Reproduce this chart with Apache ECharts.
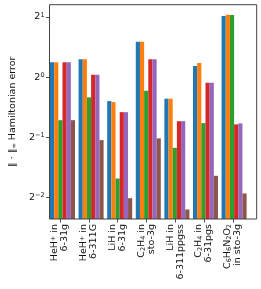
<!DOCTYPE html>
<html><head><meta charset="utf-8">
<script src="https://cdn.jsdelivr.net/npm/echarts@6/dist/echarts.min.js"></script>
<style>html,body{margin:0;padding:0;background:#fff}#c{width:261px;height:289px}</style>
</head><body><div id="c"></div>
<script>
const categories = [
  'HeH{sup|+} in\n6-31g',
  'HeH{sup|+} in\n6-311G',
  'LiH in\n6-31g',
  'C{sub|2}H{sub|4} in\nsto-3g',
  'LiH in\n6-311ppgss',
  'C{sub|2}H{sub|4} in\n6-31pgs',
  'C{sub|6}H{sub|6}N{sub|2}O{sub|2}\nin sto-3g'
];
const seriesBlue   = [1.185, 1.227, 0.758, 1.504, 0.779, 1.135, 2.023];
const seriesOrange = [1.185, 1.227, 0.749, 1.504, 0.779, 1.175, 2.054];
const seriesGreen  = [0.608, 0.791, 0.310, 0.854, 0.442, 0.588, 2.049];
const seriesRed    = [1.185, 1.027, 0.667, 1.227, 0.601, 0.937, 0.579];
const seriesPurple = [1.185, 1.027, 0.667, 1.227, 0.601, 0.937, 0.586];
const seriesBrown  = [0.608, 0.483, 0.247, 0.493, 0.217, 0.320, 0.261];
const yTicks = [0.25, 0.5, 1, 2];
const yMin = 0.1944, yMax = 2.305;

const colors = ['#1f77b4', '#ff7f0e', '#2ca02c', '#d62728', '#9467bd', '#8c564b'];
const allSeries = [seriesBlue, seriesOrange, seriesGreen, seriesRed, seriesPurple, seriesBrown];
const FONT = 'DejaVu Sans';
const FS = 9.5;

const chart = echarts.init(document.getElementById('c'), null, {renderer: 'canvas'});
const frame = {left: 40.7, top: 4.7, right: 4.3, bottom: 70};
const barsGrid = {left: 48.2, top: 4.7, width: 200.2, bottom: 70};
const labelGrid = {left: 45.6, top: 4.7, width: 201.6, bottom: 70};

function supFmt(v) {
  const e = Math.round(Math.log2(v));
  const s = e < 0 ? '\u2212' + (-e) : String(e);
  return '2{sup|' + s + '}';
}

chart.setOption({
  animation: false,
  textStyle: {fontFamily: FONT},
  grid: [
    Object.assign({show: true, borderColor: '#444', borderWidth: 1, backgroundColor: 'transparent', z: 5}, frame),
    barsGrid,
    labelGrid
  ],
  xAxis: [
    {gridIndex: 0, type: 'value', min: 0, max: 1, show: false},
    {gridIndex: 1, type: 'category', data: categories, show: false},
    {gridIndex: 2, type: 'category', data: categories, boundaryGap: true,
     axisLine: {show: false},
     axisTick: {show: true, alignWithLabel: true, length: 3.5, lineStyle: {color: '#222', width: 0.8}},
     axisLabel: {
       rotate: 90, interval: 0, margin: 5, fontFamily: FONT, fontSize: FS, color: '#111',
       lineHeight: 10, align: 'right',
       rich: {
         sup: {fontSize: 6.5, fontFamily: FONT, color: '#111', verticalAlign: 'top', lineHeight: 8},
         sub: {fontSize: 6.5, fontFamily: FONT, color: '#111', verticalAlign: 'bottom', lineHeight: 8}
       }
     }}
  ],
  yAxis: [
    {gridIndex: 0, type: 'log', logBase: 2, min: yMin, max: yMax,
     name: '\u2016 \u00b7 \u2016{sub|\u221e} Hamiltonian error',
     nameLocation: 'middle', nameGap: 27, nameRotate: 90,
     nameTextStyle: {fontFamily: FONT, fontSize: FS, color: '#111',
       rich: {sub: {fontSize: 6.5, fontFamily: FONT, color: '#111', verticalAlign: 'bottom', lineHeight: 8}}},
     axisLine: {show: false},
     splitLine: {show: false},
     axisTick: {show: true, length: 3.5, customValues: yTicks, lineStyle: {color: '#222', width: 0.8}},
     axisLabel: {customValues: yTicks, margin: 5, fontFamily: FONT, fontSize: FS, color: '#111',
       formatter: supFmt,
       rich: {sup: {fontSize: 6.5, fontFamily: FONT, color: '#111', verticalAlign: 'top', lineHeight: 8, padding: [0,0,4,0]}}}
    },
    {gridIndex: 1, type: 'log', logBase: 2, min: yMin, max: yMax, startValue: yMin, show: false},
    {gridIndex: 2, type: 'value', show: false}
  ],
  series: allSeries.map((d, i) => ({
    type: 'bar', xAxisIndex: 1, yAxisIndex: 1, data: d,
    barWidth: 4.17, barGap: '0%',
    itemStyle: {color: colors[i]},
    z: 2
  }))
});
</script></body></html>
